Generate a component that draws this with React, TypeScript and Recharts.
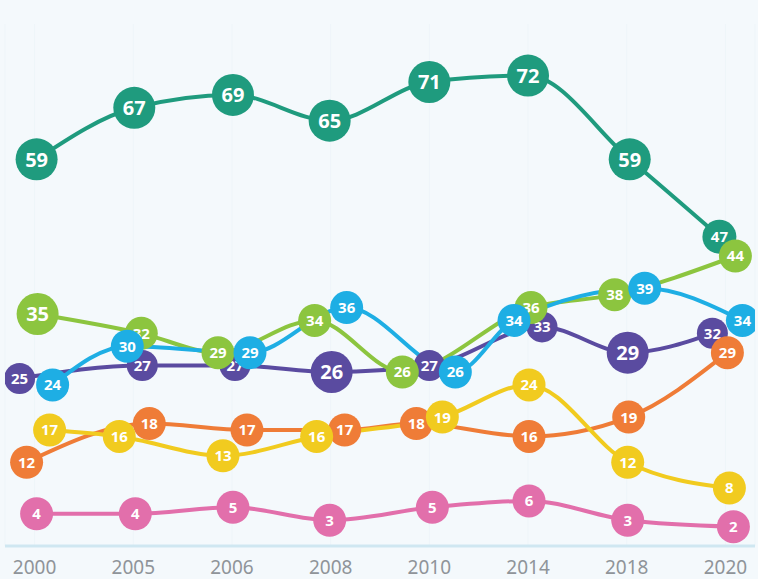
import React from "react";
import { LineChart, Line, XAxis, YAxis, CartesianGrid } from "recharts";

const years = ["2000", "2005", "2006", "2008", "2010", "2014", "2018", "2020"];

const teal = [59, 67, 69, 65, 71, 72, 59, 47];
const green = [35, 32, 29, 34, 26, 36, 38, 44];
const blue = [24, 30, 29, 36, 26, 34, 39, 34];
const purple = [25, 27, 27, 26, 27, 33, 29, 32];
const orange = [12, 18, 17, 17, 18, 16, 19, 29];
const yellow = [17, 16, 13, 16, 19, 24, 12, 8];
const pink = [4, 4, 5, 3, 5, 6, 3, 2];

// horizontal nudges (px) so that overlapping markers sit side by side, as in the infographic
const STEP = 98.68;
const nudges: Record<string, number[]> = {
  teal: [2, 1, 1, -1, 0, 0, 3, -6],
  green: [3, 8, -14, -16, -27, 3, -12, 10],
  blue: [18, -6, 18, 16, 26, -14, 18, 17],
  purple: [-15, 9, 3, 1, 0, 14, 1, -13],
  orange: [-8, 16, 15, 14, -13, 1, 2, 2],
  yellow: [15, -14, -9, -14, 13, 1, 1, 4],
  pink: [2, 2, 1, -1, 3, 1, 1, 8],
};

// big markers (index list per series)
const bigDots: Record<string, number[]> = {
  teal: [0, 1, 2, 3, 4, 5, 6],
  green: [0],
  purple: [3, 6],
};

type Series = { key: string; values: number[]; color: string; r: number };

const series: Series[] = [
  { key: "teal", values: teal, color: "#1f9b7e", r: 17 },
  { key: "purple", values: purple, color: "#5a4ba0", r: 15.5 },
  { key: "green", values: green, color: "#8cc53f", r: 16.5 },
  { key: "blue", values: blue, color: "#1eaee4", r: 16.5 },
  { key: "orange", values: orange, color: "#ef7c37", r: 16.5 },
  { key: "yellow", values: yellow, color: "#f1cb1f", r: 16.5 },
  { key: "pink", values: pink, color: "#e26fab", r: 16.5 },
];

const makeDot = (s: Series) => (props: any) => {
  const { cx, cy, index } = props;
  if (cx == null || cy == null) return <g key={`${s.key}-${index}`} />;
  const big = (bigDots[s.key] ?? []).includes(index);
  const r = big ? 21 : s.r;
  return (
    <g key={`${s.key}-${index}`}>
      <circle cx={cx} cy={cy} r={r} fill={s.color} />
      <text
        x={cx}
        y={cy}
        dy="0.36em"
        textAnchor="middle"
        fill="#ffffff"
        fontFamily="'Open Sans', sans-serif"
        fontWeight={700}
        fontSize={big ? 20 : 15}
      >
        {s.values[index]}
      </text>
    </g>
  );
};

export default function App() {
  return (
    <div
      style={{
        position: "absolute",
        left: 0,
        top: 0,
        width: 758,
        height: 579,
        background: "#f4f9fc",
      }}
    >
      <LineChart
        width={758}
        height={579}
        margin={{ top: 24, right: 3, bottom: 0, left: 5 }}
      >
        <CartesianGrid stroke="#eef5f9" strokeWidth={1} horizontal={false} />
        <XAxis
          dataKey="x"
          type="number"
          domain={[-0.3, 7.3]}
          ticks={[0, 1, 2, 3, 4, 5, 6, 7]}
          tickFormatter={(i: number) => years[i] ?? ""}
          allowDataOverflow
          height={33}
          tickLine={false}
          tickSize={0}
          tickMargin={15}
          axisLine={{ stroke: "#cfe7f1", strokeWidth: 3 }}
          tick={{ fill: "#8f9499", fontSize: 19, fontFamily: "'Noto Sans', sans-serif" }}
        />
        <YAxis type="number" domain={[-1, 80]} hide allowDataOverflow />
        {series.map((s) => (
          <Line
            key={s.key}
            data={s.values.map((v, i) => ({ x: i + nudges[s.key][i] / STEP, v }))}
            dataKey="v"
            type="monotone"
            stroke={s.color}
            strokeWidth={4}
            dot={makeDot(s)}
            activeDot={false}
            isAnimationActive={false}
          />
        ))}
      </LineChart>
    </div>
  );
}
